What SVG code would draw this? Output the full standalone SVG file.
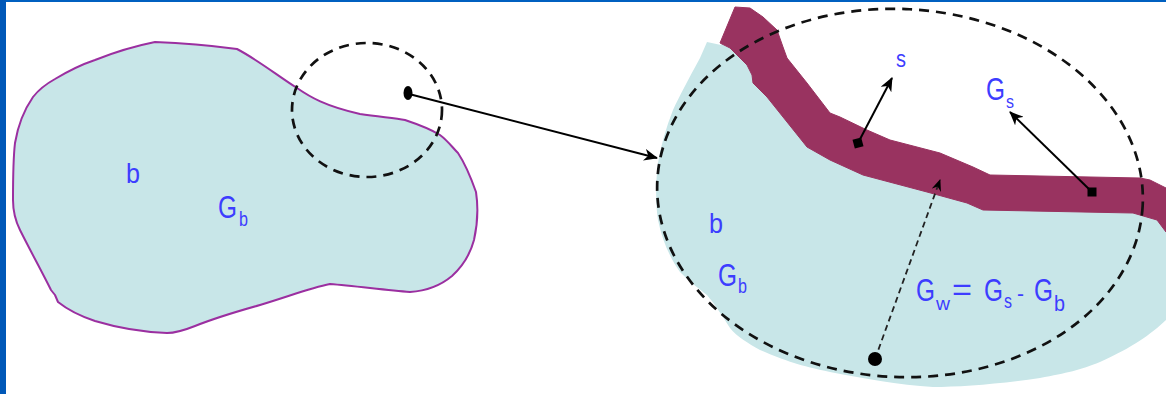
<svg xmlns="http://www.w3.org/2000/svg" width="1166" height="394" viewBox="0 0 1166 394">
<defs>
<style>
.lbl{font-family:"Liberation Sans",Arial,sans-serif;fill:#3D3DFF}
.dash{fill:none;stroke:#111;stroke-width:2.7;stroke-dasharray:10 7}
.arr{fill:none;stroke:#000;stroke-width:2}
</style>
<marker id="ah" viewBox="0 0 12 10" refX="11" refY="5" markerWidth="12" markerHeight="10" markerUnits="userSpaceOnUse" orient="auto">
<path d="M0,0 L12,5 L0,10 L4,5 Z" fill="#000"/>
</marker>
<marker id="ah2" viewBox="0 0 14 12" refX="13" refY="6" markerWidth="14" markerHeight="12" markerUnits="userSpaceOnUse" orient="auto">
<path d="M0,0 L14,6 L0,12 L4,6 Z" fill="#000"/>
</marker>
</defs>
<rect width="1166" height="394" fill="#FFFFFF"/>
<rect x="0" y="0" width="1166" height="2" fill="#0060C0"/>
<rect x="0" y="0" width="6" height="394" fill="#0058B8"/>

<g id="left-body">
<path d="M155,42 C185,43 215,46 237,49 C258,60 278,76 297,88 C310,97 325,106 360,114 C380,117 395,118 405,120 C420,125 432,130 440,135 C448,141 452,147 458,153 C464,162 470,175 476,192 C478,205 478,222 474,240 C470,255 463,266 452,276 C440,286 425,291 410,292 C385,290 355,286 330,284 C310,288 290,296 260,305 C235,312 215,318 195,326 C185,330 175,333 167,333 C140,332 115,327 95,321 C80,316 68,310 58,302 L55,295 L51,290 C42,272 30,250 20,230 C15,220 13,212 13,200 C13,180 13,160 15,143 C18,125 24,110 33,97 C40,88 46,84 55,79 C70,70 80,65 95,60 C115,52 135,46 155,42 Z" fill="#C8E6E8" stroke="#9B2FA0" stroke-width="2" stroke-linejoin="round"/>
<text class="lbl" x="126" y="183" font-size="28" textLength="14" lengthAdjust="spacingAndGlyphs">b</text>
<text class="lbl" x="218" y="218" font-size="31" textLength="19" lengthAdjust="spacingAndGlyphs">G</text>
<text class="lbl" x="239" y="226" font-size="20" textLength="9" lengthAdjust="spacingAndGlyphs">b</text>
</g>

<g id="zoom-circle">
<ellipse cx="367" cy="110" rx="75" ry="67" class="dash"/>
</g>

<g id="right-body">
<path d="M700,58 L707,42 L721,45 L730,30 L760,35 L772,55 L798,100 L840,135 L900,160 L970,185 L1166,208 L1166,320 C1150,335 1133,347 1100,362 C1080,370 1067,373 1040,378 C1000,384 960,387 933,387 C900,385 860,378 830,372 C800,366 783,360 760,350 C748,343 737,337 730,328 C722,315 713,302 707,295 C698,288 690,282 680,272 C670,258 662,240 658,220 C655,200 656,180 658,163 C661,145 666,128 673,110 C680,95 688,80 700,58 Z" fill="#C8E6E8"/>
<path d="M735,7 L750,8 L763,17 L777,30 L783,47 L787,58 L807,83 L830,113 L840,117 L867,130 L890,140 L940,153 L973,167 L990,175 L1140,178 L1150,180 L1166,188 L1166,232 L1157,220 L1133,213 L983,210 L967,203 L927,192 L863,175 L830,160 L807,147 L767,97 L753,83 L752,75 L747,65 L730,48 L720,43 Z" fill="#993360" stroke="#993360" stroke-width="1" stroke-linejoin="round"/>
<text class="lbl" x="709" y="233" font-size="28" textLength="14" lengthAdjust="spacingAndGlyphs">b</text>
<text class="lbl" x="718" y="286" font-size="31" textLength="19" lengthAdjust="spacingAndGlyphs">G</text>
<text class="lbl" x="738" y="293" font-size="20" textLength="9" lengthAdjust="spacingAndGlyphs">b</text>
</g>

<g id="zoom-ellipse">
<ellipse cx="900" cy="193" rx="243" ry="184" transform="rotate(3 900 193)" class="dash"/>
</g>

<g id="labels-right">
<text class="lbl" x="896" y="67" font-size="24" textLength="10" lengthAdjust="spacingAndGlyphs">s</text>
<text class="lbl" x="986" y="100" font-size="31" textLength="19" lengthAdjust="spacingAndGlyphs">G</text>
<text class="lbl" x="1006" y="108" font-size="18" textLength="8" lengthAdjust="spacingAndGlyphs">s</text>
<text class="lbl" x="916" y="301" font-size="31" textLength="19" lengthAdjust="spacingAndGlyphs">G</text>
<text class="lbl" x="936" y="310" font-size="18" textLength="14" lengthAdjust="spacingAndGlyphs">w</text>
<text class="lbl" x="952" y="300" font-size="31" textLength="20" lengthAdjust="spacingAndGlyphs">=</text>
<text class="lbl" x="984" y="301" font-size="31" textLength="19" lengthAdjust="spacingAndGlyphs">G</text>
<text class="lbl" x="1004" y="308" font-size="20" textLength="8" lengthAdjust="spacingAndGlyphs">s</text>
<text class="lbl" x="1017" y="301" font-size="22" textLength="7" lengthAdjust="spacingAndGlyphs">-</text>
<text class="lbl" x="1034" y="301" font-size="31" textLength="19" lengthAdjust="spacingAndGlyphs">G</text>
<text class="lbl" x="1054" y="311" font-size="22" textLength="11" lengthAdjust="spacingAndGlyphs">b</text>
</g>

<g id="connectors">
<line x1="409" y1="94" x2="657" y2="158" class="arr" marker-end="url(#ah2)"/>
<ellipse cx="408" cy="93" rx="4.5" ry="7" fill="#000"/>
<line x1="858" y1="143" x2="892" y2="78" class="arr" marker-end="url(#ah2)"/>
<rect x="853.5" y="138.5" width="9" height="9" fill="#000" transform="rotate(-15 858 143)"/>
<line x1="1092" y1="192" x2="1010" y2="112" class="arr" marker-end="url(#ah2)"/>
<rect x="1087.5" y="187.5" width="9" height="9" fill="#000"/>
<line x1="875" y1="359" x2="940" y2="180" fill="none" stroke="#222" stroke-width="1.8" stroke-dasharray="6 4" marker-end="url(#ah)"/>
<circle cx="875" cy="359" r="7" fill="#000"/>
</g>
</svg>
